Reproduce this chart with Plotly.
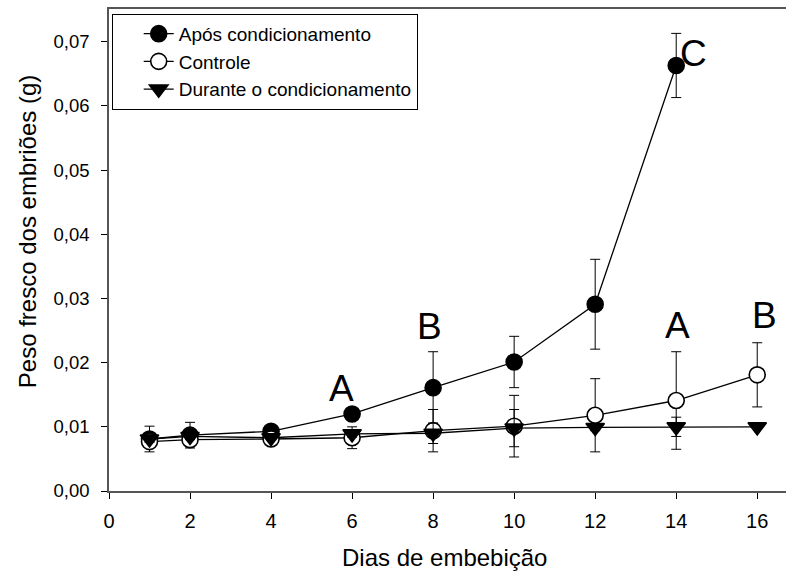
import plotly.graph_objects as go

days_apos = [1, 2, 4, 6, 8, 10, 12, 14]
apos = [0.0081, 0.0087, 0.0093, 0.0120, 0.0161, 0.0201, 0.0291, 0.0663]
apos_err = [0.0020, 0.0020, 0.0005, 0.0008, 0.0056, 0.0040, 0.0070, 0.0050]

days_ctrl = [1, 2, 4, 6, 8, 10, 12, 14, 16]
controle = [0.0077, 0.0080, 0.0081, 0.0083, 0.0094, 0.0101, 0.0118, 0.0141, 0.0181]
controle_err = [0.0005, 0.0005, 0.0005, 0.0017, 0.0033, 0.0048, 0.0057, 0.0076, 0.0050]

days_dur = [1, 2, 4, 6, 8, 10, 12, 14, 16]
durante = [0.0081, 0.0085, 0.0083, 0.0089, 0.0090, 0.0098, 0.0099, 0.0100, 0.0100]
durante_err = [0.0005, 0.0005, 0.0003, 0.0005, 0.0016, 0.0029, 0.0005, 0.0015, 0.0003]

letters = ["A", "B", "C", "A", "B"]
letter_x = [5.75, 7.9, 14.42, 14.02, 16.19]
letter_y = [0.0159, 0.0256, 0.0682, 0.0258, 0.0274]

x_ticks = [0, 2, 4, 6, 8, 10, 12, 14, 16]
y_ticks = [0, 0.01, 0.02, 0.03, 0.04, 0.05, 0.06, 0.07]

FONT = "Arial, Liberation Sans, sans-serif"

fig = go.Figure()

def add(name, x, y, err, symbol, fill):
    fig.add_trace(go.Scatter(
        x=x, y=y, name=name, mode="lines+markers",
        line=dict(color="black", width=1.3),
        marker=dict(symbol=symbol, size=16, color=fill,
                    line=dict(color="black", width=1.6)),
        error_y=dict(type="data", array=err, visible=True,
                     color="black", thickness=1, width=5),
    ))

add("Após condicionamento", days_apos, apos, apos_err, "circle", "black")
add("Controle", days_ctrl, controle, controle_err, "circle", "white")
add("Durante o condicionamento", days_dur, durante, durante_err, "triangle-down", "black")

for t, x, y in zip(letters, letter_x, letter_y):
    fig.add_annotation(x=x, y=y, text=t, showarrow=False,
                       font=dict(family=FONT, size=37, color="black"))

# axis titles
fig.add_annotation(xref="paper", yref="paper", x=0.4956, y=-0.137,
                   text="Dias de embebição", showarrow=False,
                   xanchor="center", yanchor="middle",
                   font=dict(family=FONT, size=24, color="black"))
fig.add_annotation(xref="paper", yref="paper", x=-0.1211, y=0.537,
                   text="Peso fresco dos embriões (g)", showarrow=False,
                   textangle=-90, xanchor="center", yanchor="middle",
                   font=dict(family=FONT, size=24, color="black"))

fig.update_layout(
    width=786, height=575,
    margin=dict(l=109, r=0, t=9, b=84),
    plot_bgcolor="white", paper_bgcolor="white",
    separators=",.",
    font=dict(family=FONT, color="black"),
    showlegend=True,
    legend=dict(x=0.004, y=0.99, xanchor="left", yanchor="top",
                bordercolor="black", borderwidth=1, bgcolor="white",
                font=dict(family=FONT, size=19), indentation=26,
                tracegroupgap=0),
    xaxis=dict(range=[0, 16.71], tickmode="array", tickvals=x_ticks,
               ticks="outside", ticklen=6, tickcolor="black",
               showline=True, linecolor="#555", linewidth=1.5, mirror=True,
               showgrid=False, zeroline=False, automargin=False,
               tickfont=dict(size=20), ticklabelstandoff=5),
    yaxis=dict(range=[0, 0.0751], tickmode="array", tickvals=y_ticks,
               tickformat=".2f",
               ticks="outside", ticklen=6, tickcolor="black",
               showline=True, linecolor="#555", linewidth=1.5,
               showgrid=False, zeroline=False, automargin=False,
               tickfont=dict(size=18.5), ticklabelstandoff=8),
)

fig.write_html("out.html",
               config={"displayModeBar": False},
               post_script="document.body.style.margin='0';document.body.style.overflow='hidden';")
